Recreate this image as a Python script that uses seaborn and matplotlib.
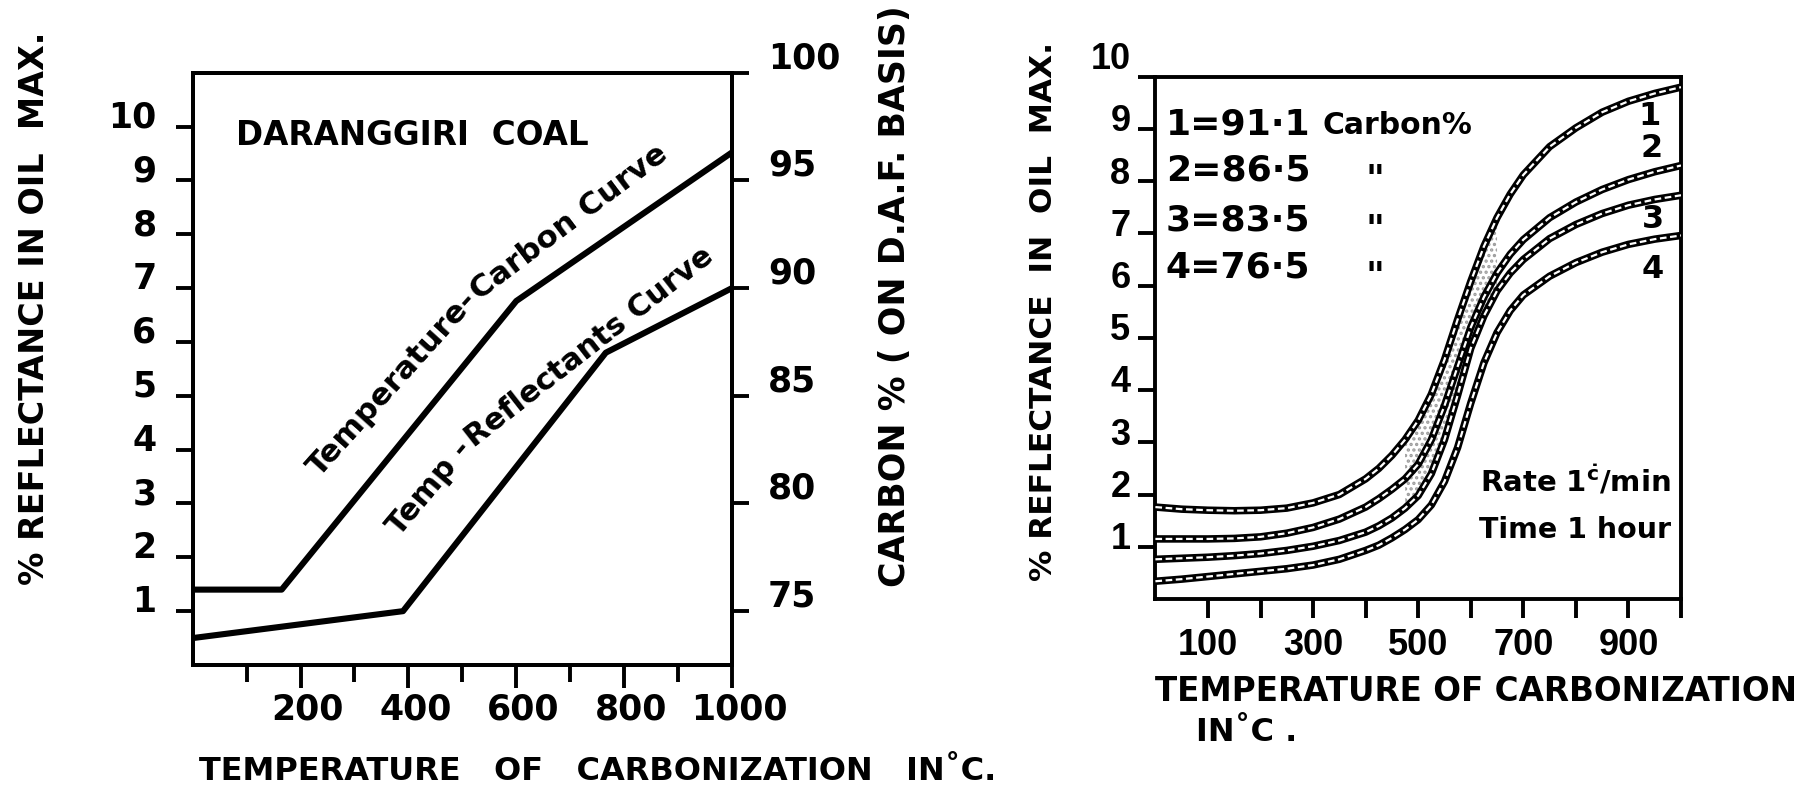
import math
import matplotlib
matplotlib.use("Agg")
import matplotlib.pyplot as plt
import matplotlib.transforms as mtransforms
from matplotlib import font_manager
import pandas as pd
import seaborn as sns

# ---------------- data ----------------
# Left panel: Daranggiri coal
carbon_curve_temp = [0, 165, 600, 1000]
carbon_curve_pct = [76.0, 76.0, 89.4, 96.3]
refl_curve_temp = [0, 390, 766, 1000]
refl_curve_pct = [0.5, 1.0, 5.8, 7.0]

left_xticks = [200, 400, 600, 800, 1000]
left_xminor = [100, 300, 500, 700, 900]
left_yticks = [1, 2, 3, 4, 5, 6, 7, 8, 9, 10]
carbon_ticks = [75, 80, 85, 90, 95, 100]

# Right panel: reflectance vs temperature for four coals (rate 1 C/min, 1 hour)
temps = [0, 50, 100, 150, 200, 250, 300, 350, 400, 425, 450, 475, 500, 525,
         550, 575, 600, 625, 650, 675, 700, 750, 800, 850, 900, 950, 1000]
refl_1 = [1.76, 1.72, 1.70, 1.69, 1.70, 1.74, 1.84, 2.00, 2.30, 2.50, 2.75,
          3.05, 3.42, 3.92, 4.58, 5.35, 6.08, 6.75, 7.30, 7.75, 8.12, 8.66,
          9.02, 9.32, 9.53, 9.68, 9.80]
refl_2 = [1.15, 1.15, 1.15, 1.16, 1.19, 1.26, 1.37, 1.53, 1.76, 1.92, 2.10,
          2.30, 2.58, 3.05, 3.70, 4.45, 5.20, 5.78, 6.24, 6.60, 6.88, 7.30,
          7.60, 7.84, 8.03, 8.18, 8.30]
refl_3 = [0.76, 0.78, 0.80, 0.83, 0.87, 0.93, 1.01, 1.12, 1.28, 1.40, 1.55,
          1.74, 1.98, 2.40, 3.05, 3.90, 4.80, 5.42, 5.90, 6.24, 6.50, 6.90,
          7.17, 7.38, 7.54, 7.65, 7.73]
refl_4 = [0.34, 0.38, 0.43, 0.48, 0.53, 0.58, 0.65, 0.76, 0.93, 1.03, 1.17,
          1.33, 1.52, 1.80, 2.25, 2.90, 3.75, 4.52, 5.10, 5.52, 5.82, 6.18,
          6.44, 6.64, 6.79, 6.89, 6.96]
curve_ids = ["1", "2", "3", "4"]
carbon_pct = ["91\u00b71", "86\u00b75", "83\u00b75", "76\u00b75"]

right_xticks = [100, 300, 500, 700, 900]
right_xminor = [200, 400, 600, 800, 1000]
right_yticks = [1, 2, 3, 4, 5, 6, 7, 8, 9, 10]

# ---------------- style ----------------
sns.set_theme(style="white")
plt.rcParams.update({
    "font.family": ["DejaVu Sans"],
    "font.weight": "bold",
    "axes.linewidth": 2.8,
    "axes.edgecolor": "black",
    "xtick.color": "black",
    "ytick.color": "black",
    "text.color": "black",
    "axes.labelcolor": "black",
    "hatch.linewidth": 1.6,
    "mathtext.fontset": "custom",
    "mathtext.rm": "DejaVu Sans:bold",
    "mathtext.it": "DejaVu Sans:bold",
    "mathtext.bf": "DejaVu Sans:bold",
})

installed = {f.name for f in font_manager.fontManager.ttflist}
if "Liberation Sans Narrow" in installed:
    NARROW, narrow_size = "Liberation Sans Narrow", 27
else:
    NARROW, narrow_size = "Liberation Sans", 26

W, H = 1819, 790
fig = plt.figure(figsize=(W / 100, H / 100), dpi=100)
fig.patch.set_facecolor("white")
renderer = fig.canvas.get_renderer()


def px_axes(x0, x1, y0, y1):
    return fig.add_axes([x0 / W, 1 - y1 / H, (x1 - x0) / W, (y1 - y0) / H])


def shift(labels, dx, dy):
    off = mtransforms.ScaledTranslation(dx / 72, dy / 72, fig.dpi_scale_trans)
    for lab in labels:
        lab.set_transform(lab.get_transform() + off)


def text_along(ax, x, y, pieces, size, gap=0.0):
    """Write consecutive text pieces, each at its own angle, end to end."""
    px, py = ax.transData.transform((x, y))
    for s, ang in pieces:
        probe = fig.text(0, 0, s, fontsize=size, fontweight="bold")
        w = probe.get_window_extent(renderer).width
        probe.remove()
        fig.text(px, py, s, fontsize=size, fontweight="bold", rotation=ang,
                 rotation_mode="anchor", ha="left", va="baseline",
                 transform=mtransforms.IdentityTransform())
        a = math.radians(ang)
        px += (w + gap) * math.cos(a)
        py += (w + gap) * math.sin(a)


# ================= left panel =================
axL = px_axes(192.7, 732, 72.7, 665)
axC = axL.twinx()

sns.lineplot(x=refl_curve_temp, y=refl_curve_pct, ax=axL, color="black",
             lw=4.4, sort=False, legend=False)
sns.lineplot(x=carbon_curve_temp, y=carbon_curve_pct, ax=axC, color="black",
             lw=4.4, sort=False, legend=False)

axL.set_xlim(0, 1000)
axL.set_ylim(0, 11)
axC.set_ylim(72.5, 100)

axL.set_xticks(left_xticks)
axL.set_xticks(left_xminor, minor=True)
axL.set_yticks(left_yticks)
axC.set_yticks(carbon_ticks)
axL.set_xticklabels([str(v) for v in left_xticks])
axL.set_yticklabels([str(v) for v in left_yticks])
axC.set_yticklabels([str(v) for v in carbon_ticks])

axL.tick_params(axis="x", which="major", bottom=True, direction="out",
                length=16.5, width=2.8, labelsize=25, pad=3)
axL.tick_params(axis="x", which="minor", bottom=True, direction="out",
                length=12, width=2.8)
axL.tick_params(axis="y", which="major", left=True, direction="out",
                length=12, width=2.8, labelsize=25, pad=14)
axC.tick_params(axis="y", which="major", right=True, direction="out",
                length=12, width=2.8, labelsize=25, pad=14)
for a in (axL, axC):
    for s in a.spines.values():
        s.set_visible(True)
        s.set_linewidth(2.8)
    a.set_xlabel("")
    a.set_ylabel("")

axL.set_ylabel("% REFLECTANCE IN OIL  MAX.", fontsize=24, fontweight="bold")
axL.yaxis.set_label_coords(-0.262, 0.603)
axC.set_ylabel("CARBON % ( ON D.A.F. BASIS)", fontsize=25, fontweight="bold",
               rotation=90)
axC.yaxis.set_label_coords(1.27, 0.623)
axL.set_xlabel("TEMPERATURE   OF   CARBONIZATION   IN\u02daC.", fontsize=23,
               fontweight="bold")
axL.xaxis.set_label_coords(0.75, -0.179)
axL.xaxis.label.set_va("center")

axL.text(80, 9.84, "DARANGGIRI  COAL", fontsize=23.5, fontweight="bold",
         ha="left", va="center")
# curve captions following the line segments
text_along(axL, 235, 3.48, [("Temperature-", 48), ("Carbon Curve", 37)], 22.5)
text_along(axL, 384, 2.38, [("Temp -", 50), ("Reflectants Curve", 38)], 22,
           gap=2)

# ================= right panel =================
axR = px_axes(1155.4, 1681, 76.7, 599)

df = pd.DataFrame({"temp": temps * 4,
                   "refl": refl_1 + refl_2 + refl_3 + refl_4,
                   "curve": sum([[c] * len(temps) for c in curve_ids], [])})

# stippled band where the curves crowd together
mid = [i for i, t in enumerate(temps) if 475 <= t <= 650]
axR.fill_between([temps[i] for i in mid], [refl_3[i] for i in mid],
                 [refl_1[i] for i in mid], facecolor="none",
                 edgecolor="#9c9c9c", hatch="...", lw=0, zorder=1)

for cid in curve_ids:
    sub = df[df["curve"] == cid]
    sns.lineplot(data=sub, x="temp", y="refl", ax=axR, color="black", lw=5.4,
                 legend=False, zorder=2)
    sns.lineplot(data=sub, x="temp", y="refl", ax=axR, color="white", lw=1.6,
                 linestyle=(0, (3, 1.6)), legend=False, zorder=3)

axR.set_xlim(0, 1000)
axR.set_ylim(0, 10)
axR.set_xticks(right_xticks)
axR.set_xticks(right_xminor, minor=True)
axR.set_yticks(right_yticks)
axR.set_xticklabels([str(v) for v in right_xticks])
axR.set_yticklabels([str(v) for v in right_yticks])
axR.tick_params(axis="x", which="both", bottom=True, direction="out",
                length=14, width=2.8, labelsize=narrow_size, pad=7,
                labelfontfamily=NARROW)
axR.tick_params(axis="y", which="major", left=True, direction="out",
                length=12, width=2.8, labelsize=narrow_size, pad=6,
                labelfontfamily=NARROW)
for s in axR.spines.values():
    s.set_visible(True)
    s.set_linewidth(2.8)

axR.set_ylabel("% REFLECTANCE  IN  OIL  MAX.", fontsize=22.5, fontweight="bold")
axR.yaxis.set_label_coords(-0.185, 0.55)
axR.set_xlabel("TEMPERATURE OF CARBONIZATION", fontsize=23.5, fontweight="bold")
axR.xaxis.set_label_coords(0.61, -0.178)
axR.xaxis.label.set_va("center")
axR.text(0.174, -0.255, "IN\u02daC .", transform=axR.transAxes, fontsize=23,
         fontweight="bold", ha="center", va="center")

# key of carbon contents
key_baselines = [8.90, 8.02, 7.05, 6.15]
for cid, pct, yb in zip(curve_ids, carbon_pct, key_baselines):
    axR.text(20, yb, f"{cid}={pct}", fontsize=26, fontweight="bold",
             ha="left", va="baseline")
axR.text(318, key_baselines[0], "Carbon%", fontsize=21.5, fontweight="bold",
         ha="left", va="baseline")
for yb in key_baselines[1:]:
    axR.text(418, yb - 0.18, "\"", fontsize=26, fontweight="bold",
             ha="center", va="baseline")

# curve numbers at the right-hand ends
label_pos = [(941, 9.23), (944, 8.63), (946, 7.26), (946, 6.30)]
for cid, (tx, ty) in zip(curve_ids, label_pos):
    axR.text(tx, ty, cid, fontsize=23, fontweight="bold", ha="center",
             va="center")

axR.text(617, 2.26, r"Rate 1$^{\dot{c}}$/min", fontsize=21, fontweight="bold",
         ha="left", va="center")
axR.text(616, 1.32, "Time 1 hour", fontsize=20.5, fontweight="bold",
         ha="left", va="center")

# raise the tick labels slightly above their ticks
shift(axL.get_yticklabels(), 0, 9)
shift(axC.get_yticklabels(), 0, 13)
ylabs = axR.get_yticklabels()
shift(ylabs[:-1], 0, 8)
shift(ylabs[-1:], 0, 15)
shift(axL.get_xticklabels(), 5, 0)

fig.savefig("out.png", dpi=100, facecolor="white")
